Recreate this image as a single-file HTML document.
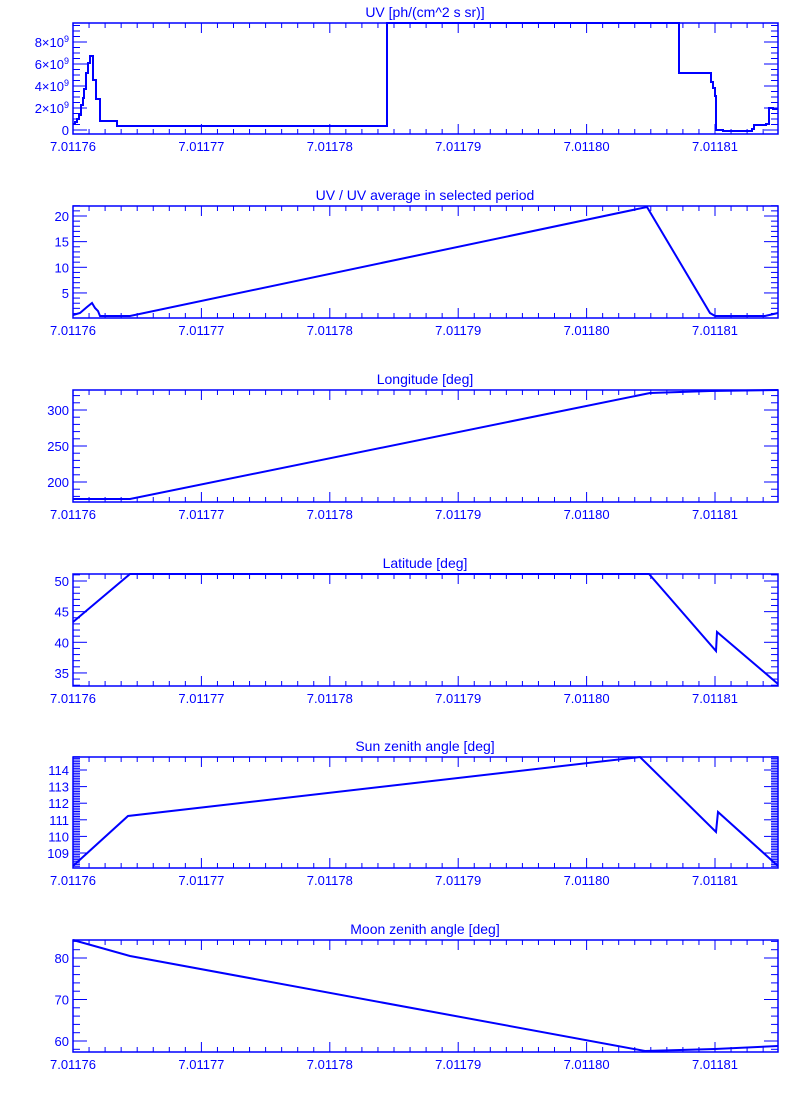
<!DOCTYPE html>
<html><head><meta charset="utf-8"><style>
html,body{margin:0;padding:0;background:#fff;}
svg{display:block;}
text{font-family:"Liberation Sans",sans-serif;fill:#0000ff;}
</style></head><body>
<svg id="s" width="800" height="1100" xmlns="http://www.w3.org/2000/svg"></svg>
<script>
const S=document.getElementById('s');const NS='http://www.w3.org/2000/svg';
function el(t,a,txt){const e=document.createElementNS(NS,t);for(const k in a)e.setAttribute(k,a[k]);if(txt!==undefined)e.textContent=txt;S.appendChild(e);return e;}
const L=73,R=778,B='#0000ff';
function xpx(i){return 73+128.4*i;}
function panel(p){
 const T=p.top,Bt=p.bot;
 el('rect',{x:L,y:T,width:R-L,height:Bt-T,fill:'none',stroke:B,'stroke-width':1.5});
 el('text',{x:425,y:T-5,'text-anchor':'middle','font-size':14},p.title);
 // x ticks
 for(let k=0;k<=45;k++){const x=73+128.4/8*k;if(x>R)break;const maj=k%8==0;const len=maj?10:5;
  el('line',{x1:x,y1:Bt,x2:x,y2:Bt-len,stroke:B,'stroke-width':1});
  el('line',{x1:x,y1:T,x2:x,y2:T+len,stroke:B,'stroke-width':1});
  if(maj)el('text',{x:x,y:Bt+17,'text-anchor':'middle','font-size':13},'7.0117'+(6+k/8>9?'':'')+ (k/8<4?(6+k/8):'') );
 }
 // y ticks
 for(let v=p.ymin;v<=p.ymax+1e-9;v+=p.minor){const vv=Math.round(v/p.minor)*p.minor;const y=p.y(vv);if(y<T-0.5||y>Bt+0.5)continue;
  const maj=Math.abs(vv/p.major-Math.round(vv/p.major))<1e-6;const len=maj?14:7;
  el('line',{x1:L,y1:y,x2:L+len,y2:y,stroke:B,'stroke-width':1});
  el('line',{x1:R,y1:y,x2:R-len,y2:y,stroke:B,'stroke-width':1});
  if(maj&&p.lab(vv)!==null){const t=el('text',{x:L-4,y:y+5,'text-anchor':'end','font-size':13});t.innerHTML=p.lab(vv);}
 }
 el('polyline',{points:p.d.map(q=>q.join(',')).join(' '),fill:'none',stroke:B,'stroke-width':2,'stroke-linejoin':'miter'});
}
const labels=['7.01176','7.01177','7.01178','7.01179','7.01180','7.01181'];
const P=[
{top:23,bot:134,title:'UV [ph/(cm^2 s sr)]',y:v=>130-v*11,ymin:0,ymax:9.6,minor:0.5,major:2,
 lab:v=>v==0?'0':v+'×10<tspan dy="-5" font-size="9">9</tspan>',
 d:[[73,124],[75,124],[75,122],[77,122],[77,119],[79,119],[79,115],[81,115],[81,105],[83,105],[83,98],[84,98],[84,89],[86,89],[86,73],[88,73],[88,63],[90,63],[90,56],[93,56],[93,80],[96,80],[96,99],[100,99],[100,121],[117,121],[117,126],[387,126],[387,23],[679,23],[679,73],[711,73],[711,82],[713,82],[713,88],[715,88],[715,96],[716,96],[716,130],[723,130],[723,131],[752,131],[752,129],[754,129],[754,125],[766,125],[766,124],[769,124],[769,108],[773,108],[773,109],[778,109]]},
{top:206,bot:318,title:'UV / UV average in selected period',y:v=>216-(v-20)*5.13,ymin:0,ymax:22,minor:1,major:5,
 lab:v=>v==0?null:String(v),
 d:[[73,315],[80,313],[87,307],[92,303],[95,308],[98,311],[100,316],[130,316],[647,207],[710,313],[715,316],[765,316],[778,313]]},
{top:390,bot:502,title:'Longitude [deg]',y:v=>482-(v-200)*0.72,ymin:170,ymax:330,minor:10,major:50,
 lab:v=>String(v),
 d:[[73,499],[130,499],[650,393],[710,391],[778,390]]},
{top:574,bot:686,title:'Latitude [deg]',y:v=>581-(v-50)*6.13,ymin:32,ymax:52,minor:1,major:5,
 lab:v=>String(v),
 d:[[73,622],[130,574],[649,574],[716,651],[717,632],[778,684]]},
{top:757,bot:868,title:'Sun zenith angle [deg]',y:v=>770-(v-114)*16.6,ymin:108,ymax:115,minor:0.1,major:1,
 lab:v=>String(v),
 d:[[73,866],[128,816],[640,757],[716,832],[718,812],[778,866]]},
{top:940,bot:1052,title:'Moon zenith angle [deg]',y:v=>958-(v-80)*4.15,ymin:50,ymax:90,minor:2,major:10,
 lab:v=>String(v),
 d:[[73,940],[130,956],[645,1051],[715,1049],[778,1046]]}
];
// override x label text generation
for(const p of P){
 const T=p.top,Bt=p.bot;
 el('rect',{x:L,y:T,width:R-L,height:Bt-T,fill:'none',stroke:B,'stroke-width':1.5});
 el('text',{x:425,y:T-6,'text-anchor':'middle','font-size':14},p.title);
 for(let k=0;k<=45;k++){const x=73+128.4/8*k;if(x>R)break;const maj=k%8==0;const len=maj?10:5;
  el('line',{x1:x,y1:Bt,x2:x,y2:Bt-len,stroke:B,'stroke-width':1});
  el('line',{x1:x,y1:T,x2:x,y2:T+len,stroke:B,'stroke-width':1});
  if(maj)el('text',{x:x,y:Bt+17,'text-anchor':'middle','font-size':13},labels[k/8]);
 }
 const n=Math.round((p.ymax-p.ymin)/p.minor);
 for(let i=0;i<=n;i++){const vv=Math.round((p.ymin+i*p.minor)*1000)/1000;const y=p.y(vv);if(y<T-0.5||y>Bt+0.5)continue;
  const maj=Math.abs(vv/p.major-Math.round(vv/p.major))<1e-6;const len=maj?14:7;
  el('line',{x1:L,y1:y,x2:L+len,y2:y,stroke:B,'stroke-width':1});
  el('line',{x1:R,y1:y,x2:R-len,y2:y,stroke:B,'stroke-width':1});
  if(maj&&p.lab(vv)!==null){const t=el('text',{x:L-4,y:y+5,'text-anchor':'end','font-size':13});t.innerHTML=p.lab(vv);}
 }
 el('polyline',{points:p.d.map(q=>q.join(',')).join(' '),fill:'none',stroke:B,'stroke-width':2});
}
</script>
</body></html>
